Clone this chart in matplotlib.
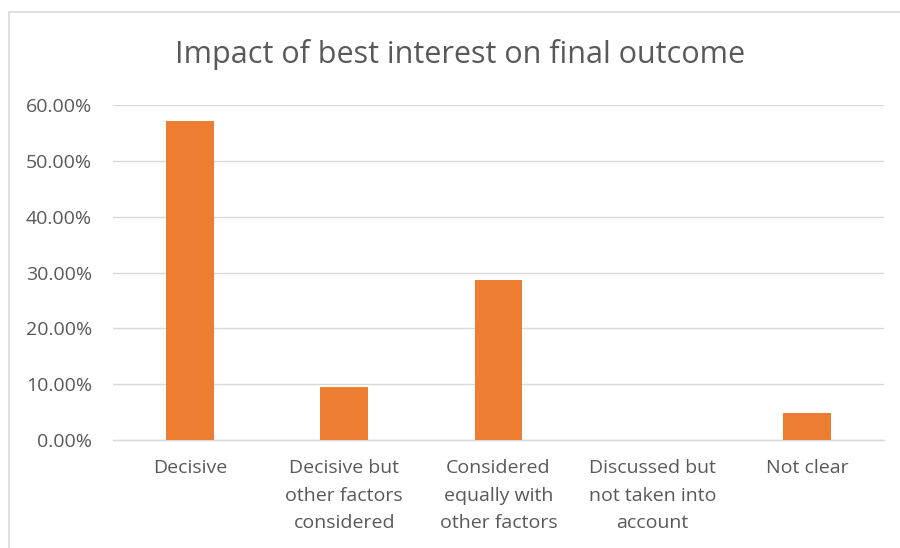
import matplotlib
matplotlib.use("Agg")
import matplotlib.pyplot as plt
from matplotlib.patches import Rectangle
from matplotlib.ticker import FuncFormatter

categories = ["Decisive", "Decisive but\nother factors\nconsidered", "Considered\nequally with\nother factors",
              "Discussed but\nnot taken into\naccount", "Not clear"]
values = [0.5714, 0.0952, 0.2857, 0.0, 0.0476]
yticks = [0.0, 0.1, 0.2, 0.3, 0.4, 0.5, 0.6]

plt.rcParams['font.family'] = ['Open Sans', 'DejaVu Sans']
txt = '#595959'

fig = plt.figure(figsize=(9, 5.48), dpi=100)
ax = fig.add_axes([113/900, 1-440/548, (884-113)/900, (440-105)/548])

x = list(range(len(categories)))
ax.bar(x, values, width=0.31, color='#ED7D31', zorder=3)
ax.set_xlim(-0.5, len(categories) - 0.5)
ax.set_ylim(0, 0.6)
ax.set_yticks(yticks)
ax.yaxis.set_major_formatter(FuncFormatter(lambda v, p: f"{v*100:.2f}%"))
ax.set_xticks(x)
ax.set_xticklabels(categories, linespacing=1.68)
ax.tick_params(axis='both', length=0, colors=txt, labelsize=14)
ax.tick_params(axis='x', pad=14)
ax.tick_params(axis='y', pad=15)
ax.grid(axis='y', color='#D9D9D9', linewidth=1, zorder=0)
for s in ['top', 'right', 'left']:
    ax.spines[s].set_visible(False)
ax.spines['bottom'].set_color('#D9D9D9')
ax.spines['bottom'].set_linewidth(1)

fig.text(460/900, 1-55/548, "Impact of best interest on final outcome", ha='center', va='center',
         fontsize=22, color=txt)

fig.patches.append(Rectangle((9/900, -0.1), 1.2, (1-12/548)+0.1, transform=fig.transFigure,
                             fill=False, edgecolor='#D9D9D9', linewidth=1.2))

fig.savefig("out.png", dpi=100)
